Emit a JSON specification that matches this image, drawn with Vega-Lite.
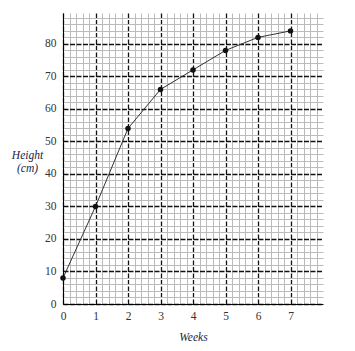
{
  "$schema": "https://vega.github.io/schema/vega-lite/v6.json",
  "width": 260,
  "height": 291,
  "autosize": "none",
  "padding": {"left": 63, "top": 13, "right": 32, "bottom": 47},
  "background": "white",
  "config": {"view": {"stroke": null}},
  "data": {"values": [
    {"week": 0, "height": 8},
    {"week": 1, "height": 30},
    {"week": 2, "height": 54},
    {"week": 3, "height": 66},
    {"week": 4, "height": 72},
    {"week": 5, "height": 78},
    {"week": 6, "height": 82},
    {"week": 7, "height": 84}
  ]},
  "encoding": {
    "x": {"field": "week", "type": "quantitative",
      "scale": {"domain": [0, 8], "nice": false, "zero": true},
      "axis": {
        "title": "Weeks",
        "titleFont": "Liberation Serif", "titleFontStyle": "italic", "titleFontWeight": "normal", "titleFontSize": 11.5, "titleColor": "#222244",
        "titleY": 27,
        "values": [0,0.2,0.4,0.6,0.8,1,1.2,1.4,1.6,1.8,2,2.2,2.4,2.6,2.8,3,3.2,3.4,3.6,3.8,4,4.2,4.4,4.6,4.8,5,5.2,5.4,5.6,5.8,6,6.2,6.4,6.6,6.8,7,7.2,7.4,7.6,7.8],
        "labelExpr": "abs(datum.value - round(datum.value)) < 0.001 ? format(datum.value, 'd') : ''",
        "labelFont": "Liberation Serif", "labelFontSize": 11.5, "labelColor": "#333",
        "labelPadding": 6, "labelFlush": false,
        "ticks": false,
        "domainColor": "black", "domainWidth": 1,
        "grid": true,
        "gridColor": {"condition": {"test": "abs(datum.value - round(datum.value)) < 0.001", "value": "#111"}, "value": "#bbbbbb"},
        "gridWidth": {"condition": {"test": "abs(datum.value - round(datum.value)) < 0.001", "value": 1.3}, "value": 1},
        "gridDash": {"condition": {"test": "abs(datum.value - round(datum.value)) < 0.001", "value": [5, 1.5]}, "value": []},
        "gridOpacity": 1
      }
    },
    "y": {"field": "height", "type": "quantitative",
      "scale": {"domain": [0, 89.5], "nice": false},
      "axis": {
        "title": ["Height", "(cm)"],
        "titleAngle": 0, "titleAlign": "center", "titleBaseline": "middle",
        "titleX": -36, "titleY": 142,
        "titleFont": "Liberation Serif", "titleFontStyle": "italic", "titleFontWeight": "normal", "titleFontSize": 11.5, "titleColor": "#222244",
        "values": [0,2,4,6,8,10,12,14,16,18,20,22,24,26,28,30,32,34,36,38,40,42,44,46,48,50,52,54,56,58,60,62,64,66,68,70,72,74,76,78,80,82,84,86,88],
        "labelExpr": "datum.value % 10 === 0 ? format(datum.value, 'd') : ''",
        "labelFont": "Liberation Serif", "labelFontSize": 11.5, "labelColor": "#333",
        "labelPadding": 7,
        "ticks": false,
        "domainColor": "black", "domainWidth": 1,
        "grid": true,
        "gridColor": {"condition": {"test": "datum.value % 10 === 0", "value": "#111"}, "value": "#bbbbbb"},
        "gridWidth": {"condition": {"test": "datum.value % 10 === 0", "value": 1.3}, "value": 1},
        "gridDash": {"condition": {"test": "datum.value % 10 === 0", "value": [5, 1.5]}, "value": []},
        "gridOpacity": 1
      }
    }
  },
  "layer": [
    {"mark": {"type": "line", "color": "#333", "strokeWidth": 1}},
    {"mark": {"type": "point", "filled": true, "color": "#111", "size": 30, "opacity": 1}}
  ]
}
